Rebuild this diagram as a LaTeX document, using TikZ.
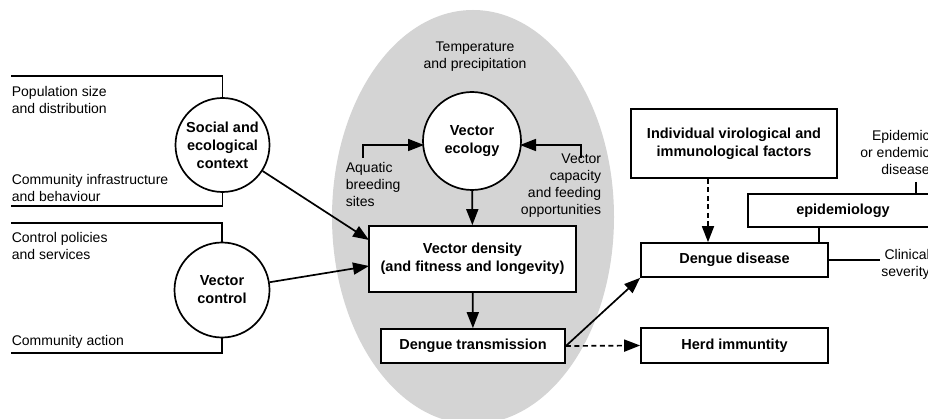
\documentclass[tikz,border=0pt]{standalone}
\usepackage{fontspec}
\setmainfont{Liberation Sans}
\usetikzlibrary{arrows.meta}
\definecolor{ellgray}{gray}{0.83}
\begin{document}
\begin{tikzpicture}[x=1pt,y=-1pt, line width=1.7pt,
 txt/.style={inner sep=0pt, font=\fontsize{14}{17}\selectfont},
 circ/.style={draw, circle, fill=white, minimum size=96pt, inner sep=0pt, align=center, font=\bfseries\fontsize{14.5}{18}\selectfont},
 box/.style={draw, fill=white, inner sep=0pt, align=center, font=\bfseries\fontsize{14.5}{18}\selectfont},
 arr/.style={-{Triangle[length=16pt,width=12pt]}},
 darr/.style={arr, dashed, dash pattern=on 5pt off 3.5pt},
]
\useasboundingbox (0,0) rectangle (928,419);
\clip (0,0) rectangle (928,419);
\fill[ellgray] (473,217) ellipse [x radius=141, y radius=207];

% left side
\node[circ, minimum size=94pt] (soc) at (222.5,145) {Social and\\ecological\\context};
\node[circ, minimum size=95pt] (vc) at (222,290) {Vector\\control};
\coordinate (s1) at (11,76);
\coordinate (s2) at (11,206);
\coordinate (c1) at (11,223);
\coordinate (c2) at (11,353);
\draw (s1) -| (soc.north);
\draw (s2) -| (soc.south);
\draw (c1) -| (vc.north);
\draw (c2) -| (vc.south);
\node[txt, anchor=west, align=left] (pop) at (11,100) {Population size\\and distribution};
\node[txt, anchor=west, align=left] (inf) at (11,188) {Community infrastructure\\and behaviour};
\node[txt, anchor=west, align=left] (pol) at (11,246) {Control policies\\and services};
\node[txt, anchor=west, align=left] (act) at (11,342) {Community action};

% centre
\node[txt, align=center] (temp) at (475,56.5) {Temperature\\and precipitation};
\node[circ, minimum size=98pt] (eco) at (472,141) {Vector\\ecology};
\node[box, minimum width=207pt, minimum height=66pt] (vd) at (472.5,259) {Vector density\\(and fitness and longevity)};
\node[box, minimum width=184pt, minimum height=34pt] (dt) at (473,346) {Dengue transmission};
\node[txt, anchor=west, align=left] (aq) at (345,184.5) {Aquatic\\breeding\\sites};
\node[txt, anchor=east, align=right] (cap) at (602,185.5) {Vector\\capacity\\and feeding\\opportunities};
\coordinate (aqs) at (363,158);
\coordinate (caps) at (581,158);
\coordinate (aqe) at (424,145);
\coordinate (cape) at (520,145);
\draw[arr] (aqs) |- (aqe);
\draw[arr] (caps) |- (cape);
\draw[arr] (eco) -- (vd);
\draw[arr] (vd) -- (dt);
\coordinate (vdin1) at (369,240);
\coordinate (vdin2) at (369,266);
\draw[arr] (soc) -- (vdin1);
\draw[arr] (vc) -- (vdin2);

% right side
\node[box, minimum width=206pt, minimum height=69pt] (ind) at (734,143.5) {Individual virological and\\immunological factors};
\node[box, minimum width=187pt, minimum height=34pt] (dd) at (734.5,260) {Dengue disease};
\node[box, minimum width=187pt, minimum height=35pt] (hi) at (734.5,345.5) {Herd immuntity};
\node[box, minimum width=200pt, minimum height=33pt, text width=190pt] (epi) at (848,210.5) {\hspace*{-10pt}epidemiology};
\node[txt, anchor=east, align=right] (epd) at (930.5,152) {Epidemic\\or endemic\\disease};
\node[txt, anchor=east, align=right] (cli) at (930.5,264) {Clinical\\severity};
\coordinate (epdb) at (916,182);
\draw (epdb) -- (epdb |- epi.north);
\coordinate (epib) at (819,227);
\draw (epib) -- (epib |- dd.north);
\coordinate (clie) at (880,260);
\draw (dd.east) -- (clie);
\draw[darr] (ind.south -| 708,0) -- (dd.north -| 708,0);
\draw[arr] (dt.east) -- (dd.south west);
\draw[darr] (dt.east) -- (hi.west);
\end{tikzpicture}
\end{document}
